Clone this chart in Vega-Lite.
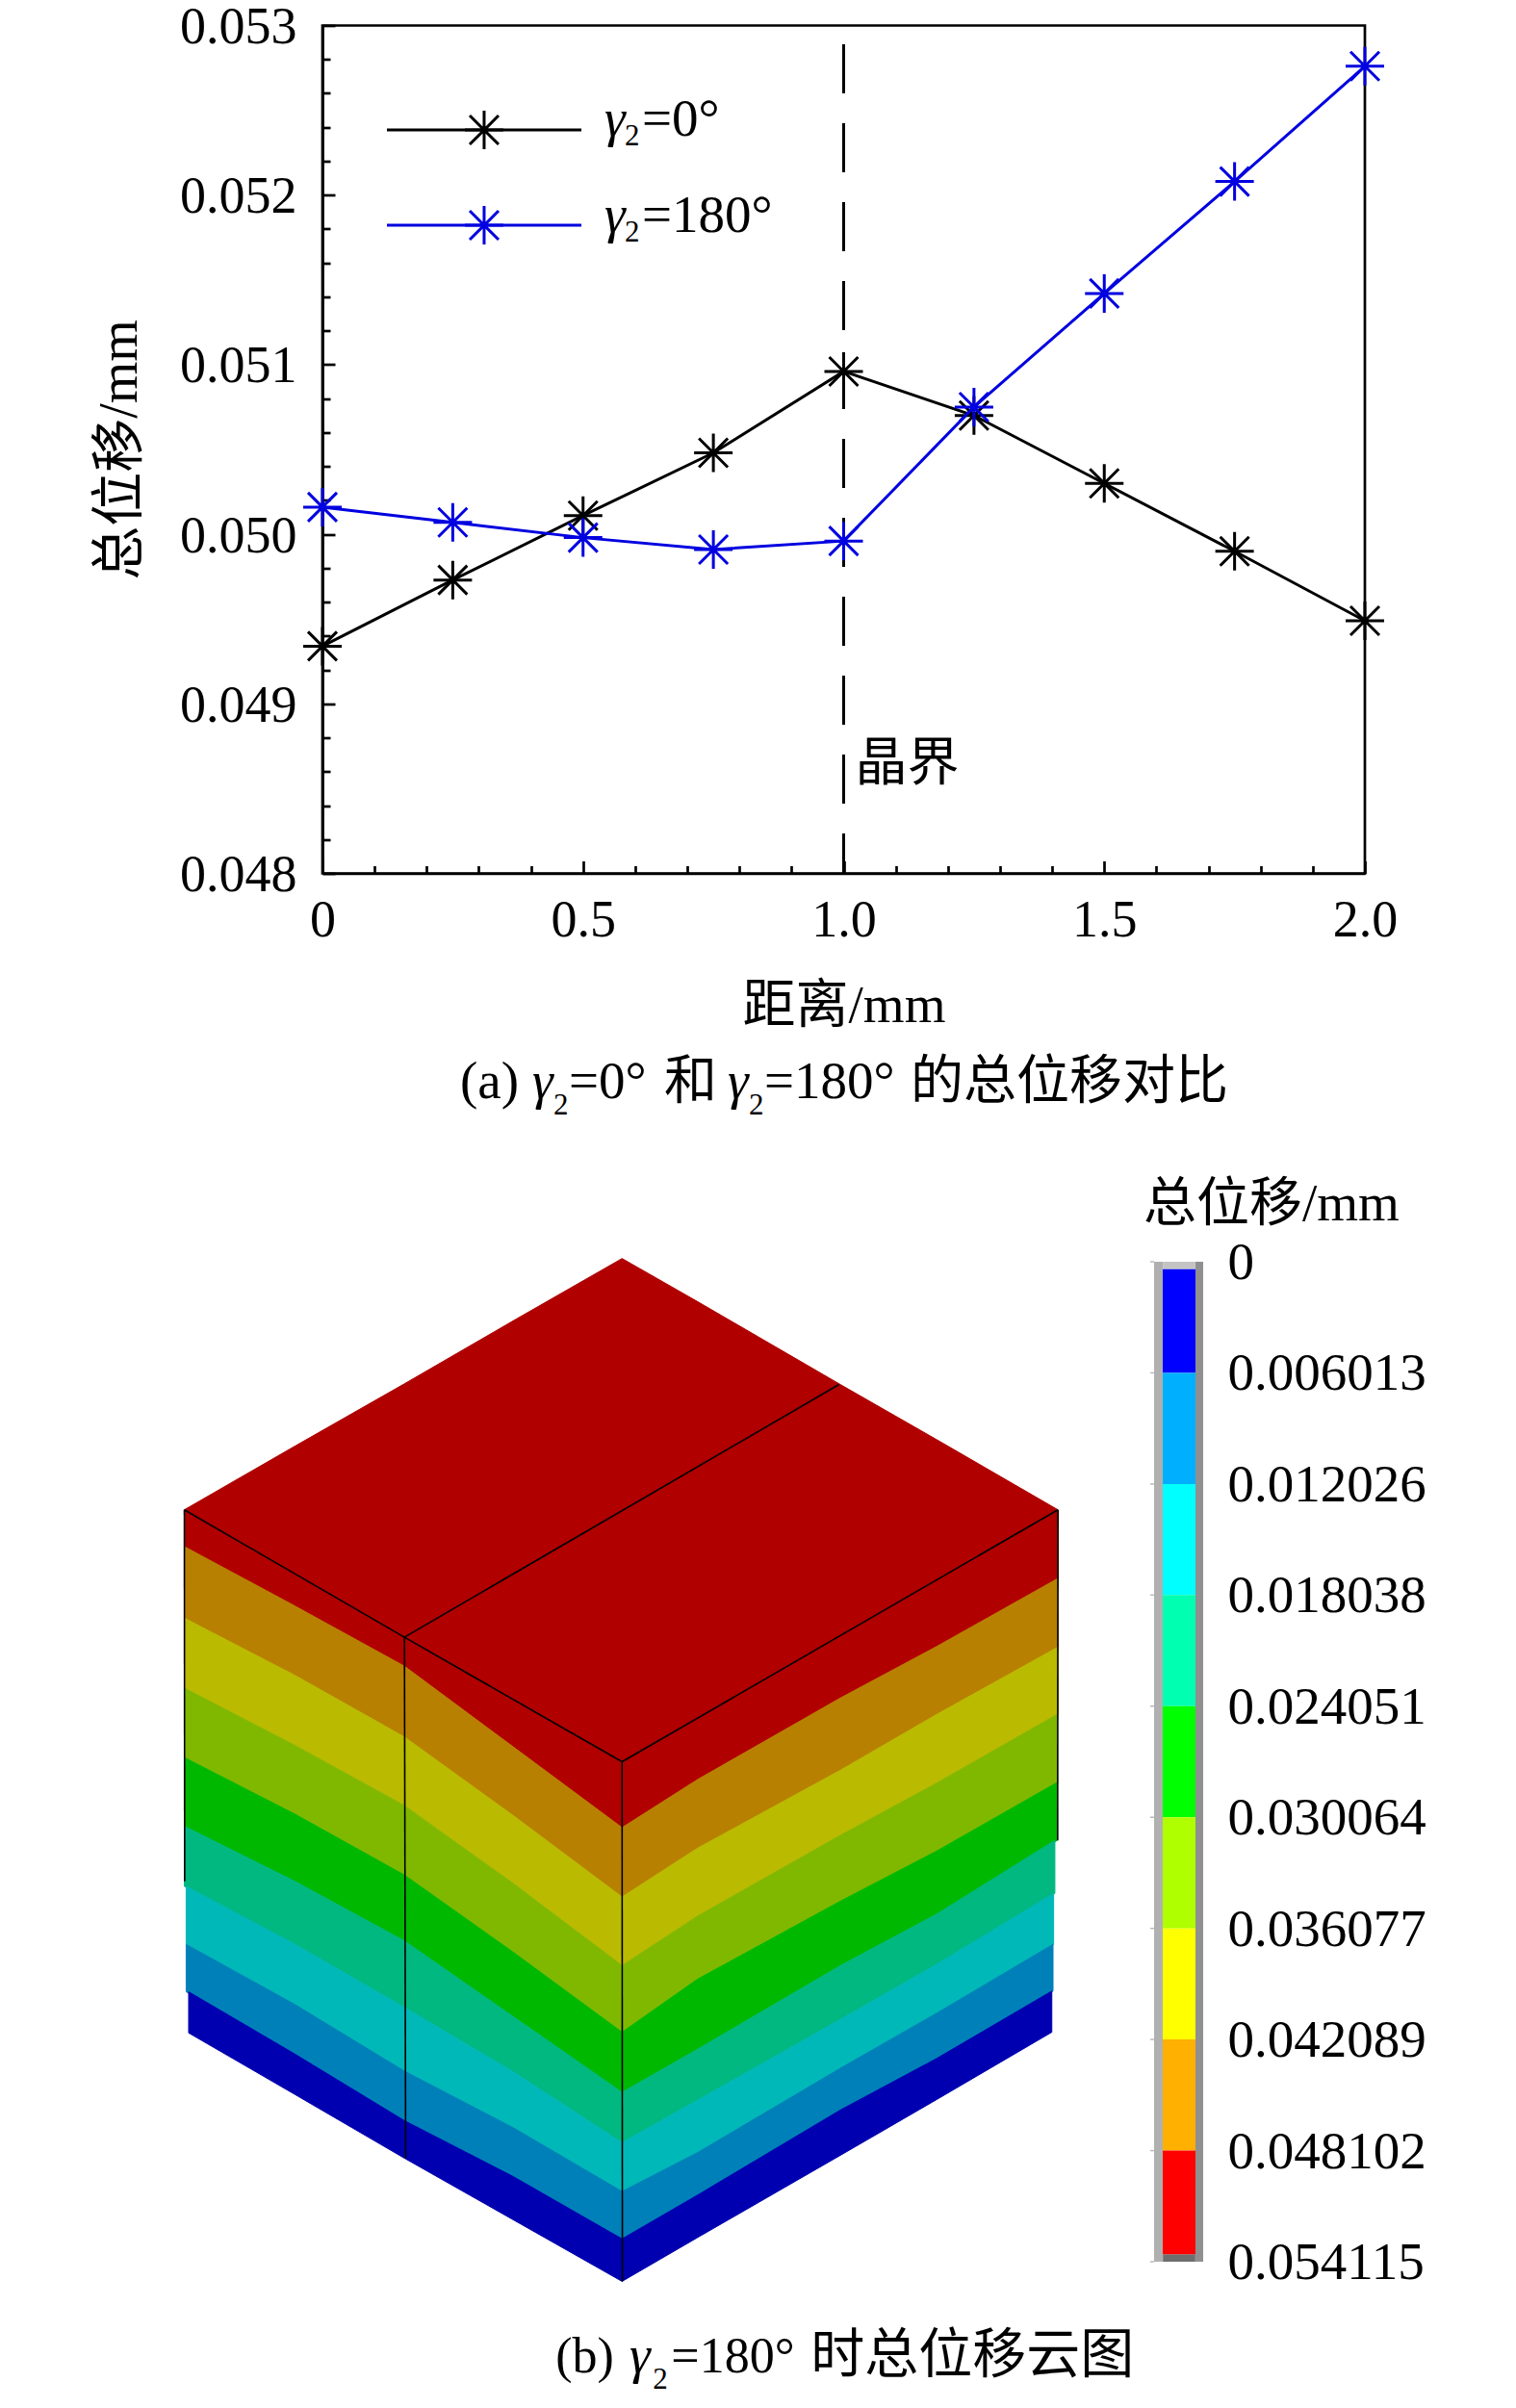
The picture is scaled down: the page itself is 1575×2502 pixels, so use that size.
{
  "$schema": "https://vega.github.io/schema/vega-lite/v6.json",
  "background": "white",
  "padding": {"left": 0, "top": -0.5, "right": 0, "bottom": 0},
  "bounds": "flush",
  "spacing": 1224.5,
  "resolve": {"scale": {"color": "independent", "stroke": "independent"}},
  "config": {
    "view": {"stroke": null},
    "font": "Liberation Serif, Noto Sans CJK SC"
  },
  "datasets": {
    "curves": [
      {"d": 0, "u": 0.04934, "series": "0"},
      {"d": 0.25, "u": 0.04973, "series": "0"},
      {"d": 0.5, "u": 0.05011, "series": "0"},
      {"d": 0.75, "u": 0.05048, "series": "0"},
      {"d": 1, "u": 0.05096, "series": "0"},
      {"d": 1.25, "u": 0.0507, "series": "0"},
      {"d": 1.5, "u": 0.0503, "series": "0"},
      {"d": 1.75, "u": 0.0499, "series": "0"},
      {"d": 2, "u": 0.04949, "series": "0"},
      {"d": 0, "u": 0.05016, "series": "180"},
      {"d": 0.25, "u": 0.05007, "series": "180"},
      {"d": 0.5, "u": 0.04998, "series": "180"},
      {"d": 0.75, "u": 0.04991, "series": "180"},
      {"d": 1, "u": 0.04996, "series": "180"},
      {"d": 1.25, "u": 0.05075, "series": "180"},
      {"d": 1.5, "u": 0.05142, "series": "180"},
      {"d": 1.75, "u": 0.05208, "series": "180"},
      {"d": 2, "u": 0.05276, "series": "180"}
    ],
    "legendLines": [
      {"d": 0.1237, "u": 0.052384, "series": "0"},
      {"d": 0.4968, "u": 0.052384, "series": "0"},
      {"d": 0.1237, "u": 0.051822, "series": "180"},
      {"d": 0.4968, "u": 0.051822, "series": "180"}
    ],
    "legendStars": [
      {"d": 0.3102, "u": 0.052384, "series": "0"},
      {"d": 0.3102, "u": 0.051822, "series": "180"}
    ],
    "bands": [
      {"b": "red", "x": 65, "t": 432, "e": 484},
      {"b": "red", "x": 245, "t": 342, "e": 568},
      {"b": "red", "x": 423, "t": 254, "e": 653},
      {"b": "red", "x": 600, "t": 165, "e": 767},
      {"b": "red", "x": 777, "t": 77, "e": 881},
      {"b": "red", "x": 900, "t": 138, "e": 813},
      {"b": "red", "x": 1132, "t": 255, "e": 698},
      {"b": "red", "x": 1289, "t": 333, "e": 625},
      {"b": "red", "x": 1486, "t": 432, "e": 529},
      {"b": "orange", "x": 65, "t": 484, "e": 585},
      {"b": "orange", "x": 245, "t": 568, "e": 666},
      {"b": "orange", "x": 423, "t": 653, "e": 753},
      {"b": "orange", "x": 600, "t": 767, "e": 864},
      {"b": "orange", "x": 777, "t": 881, "e": 979},
      {"b": "orange", "x": 900, "t": 813, "e": 910},
      {"b": "orange", "x": 1132, "t": 698, "e": 800},
      {"b": "orange", "x": 1289, "t": 625, "e": 721},
      {"b": "orange", "x": 1486, "t": 529, "e": 626},
      {"b": "yellow", "x": 65, "t": 585, "e": 684},
      {"b": "yellow", "x": 245, "t": 666, "e": 765},
      {"b": "yellow", "x": 423, "t": 753, "e": 850},
      {"b": "yellow", "x": 600, "t": 864, "e": 960},
      {"b": "yellow", "x": 777, "t": 979, "e": 1076},
      {"b": "yellow", "x": 900, "t": 910, "e": 1006},
      {"b": "yellow", "x": 1132, "t": 800, "e": 892},
      {"b": "yellow", "x": 1289, "t": 721, "e": 818},
      {"b": "yellow", "x": 1486, "t": 626, "e": 721},
      {"b": "lime", "x": 65, "t": 684, "e": 782},
      {"b": "lime", "x": 245, "t": 765, "e": 862},
      {"b": "lime", "x": 423, "t": 850, "e": 948},
      {"b": "lime", "x": 600, "t": 960, "e": 1057},
      {"b": "lime", "x": 777, "t": 1076, "e": 1170},
      {"b": "lime", "x": 900, "t": 1006, "e": 1095},
      {"b": "lime", "x": 1132, "t": 892, "e": 985},
      {"b": "lime", "x": 1289, "t": 818, "e": 914},
      {"b": "lime", "x": 1485, "t": 721, "e": 817},
      {"b": "green", "x": 65, "t": 782, "e": 879},
      {"b": "green", "x": 245, "t": 862, "e": 957},
      {"b": "green", "x": 423, "t": 948, "e": 1041},
      {"b": "green", "x": 600, "t": 1057, "e": 1148},
      {"b": "green", "x": 777, "t": 1170, "e": 1255},
      {"b": "green", "x": 900, "t": 1095, "e": 1194},
      {"b": "green", "x": 1132, "t": 985, "e": 1076},
      {"b": "green", "x": 1289, "t": 914, "e": 1003},
      {"b": "green", "x": 1485, "t": 817, "e": 899},
      {"b": "teal", "x": 65, "t": 879, "e": 964},
      {"b": "teal", "x": 245, "t": 957, "e": 1046},
      {"b": "teal", "x": 423, "t": 1041, "e": 1135},
      {"b": "teal", "x": 600, "t": 1148, "e": 1226},
      {"b": "teal", "x": 777, "t": 1255, "e": 1326},
      {"b": "teal", "x": 900, "t": 1194, "e": 1266},
      {"b": "teal", "x": 1132, "t": 1076, "e": 1152},
      {"b": "teal", "x": 1289, "t": 1003, "e": 1074},
      {"b": "teal", "x": 1481, "t": 899, "e": 974},
      {"b": "cyan", "x": 68, "t": 964, "e": 1046},
      {"b": "cyan", "x": 245, "t": 1046, "e": 1131},
      {"b": "cyan", "x": 423, "t": 1135, "e": 1225},
      {"b": "cyan", "x": 600, "t": 1226, "e": 1305},
      {"b": "cyan", "x": 777, "t": 1326, "e": 1395},
      {"b": "cyan", "x": 900, "t": 1266, "e": 1340},
      {"b": "cyan", "x": 1132, "t": 1152, "e": 1221},
      {"b": "cyan", "x": 1289, "t": 1074, "e": 1143},
      {"b": "cyan", "x": 1479, "t": 974, "e": 1046},
      {"b": "blue", "x": 68, "t": 1046, "e": 1113},
      {"b": "blue", "x": 245, "t": 1131, "e": 1201},
      {"b": "blue", "x": 423, "t": 1225, "e": 1295},
      {"b": "blue", "x": 600, "t": 1305, "e": 1374},
      {"b": "blue", "x": 777, "t": 1395, "e": 1462},
      {"b": "blue", "x": 900, "t": 1340, "e": 1400},
      {"b": "blue", "x": 1132, "t": 1221, "e": 1280},
      {"b": "blue", "x": 1289, "t": 1143, "e": 1207},
      {"b": "blue", "x": 1478, "t": 1046, "e": 1112},
      {"b": "navy", "x": 72, "t": 1113, "e": 1171},
      {"b": "navy", "x": 245, "t": 1201, "e": 1258},
      {"b": "navy", "x": 423, "t": 1295, "e": 1348},
      {"b": "navy", "x": 600, "t": 1374, "e": 1435},
      {"b": "navy", "x": 777, "t": 1462, "e": 1522},
      {"b": "navy", "x": 900, "t": 1400, "e": 1460},
      {"b": "navy", "x": 1132, "t": 1280, "e": 1344},
      {"b": "navy", "x": 1289, "t": 1207, "e": 1265},
      {"b": "navy", "x": 1476, "t": 1112, "e": 1170}
    ],
    "edges": [
      {"g": "rim", "x": 65, "y": 432},
      {"g": "rim", "x": 423, "y": 612},
      {"g": "rim", "x": 777, "y": 788},
      {"g": "rim", "x": 1486, "y": 432},
      {"g": "split", "x": 423, "y": 612},
      {"g": "split", "x": 1130, "y": 255},
      {"g": "boundary", "x": 423, "y": 612},
      {"g": "boundary", "x": 425, "y": 1348},
      {"g": "front", "x": 777, "y": 788},
      {"g": "front", "x": 777.5, "y": 1522},
      {"g": "leftEdge", "x": 65, "y": 432},
      {"g": "leftEdge", "x": 65.5, "y": 957},
      {"g": "rightEdge", "x": 1486, "y": 432},
      {"g": "rightEdge", "x": 1485.5, "y": 899}
    ],
    "bins": [
      {"c": "frameL", "a": 0, "b": 0.18, "lo": 0, "hi": 0.054115},
      {"c": "frameR", "a": 0.84, "b": 1, "lo": 0, "hi": 0.054115},
      {"c": "capT", "a": 0.18, "b": 0.84, "lo": 0, "hi": 0.0004},
      {"c": "capB", "a": 0.18, "b": 0.84, "lo": 0.05371, "hi": 0.054115},
      {"c": "c1", "a": 0.176, "b": 0.843, "lo": 0.0004, "hi": 0.006013},
      {"c": "c2", "a": 0.176, "b": 0.843, "lo": 0.006013, "hi": 0.012026},
      {"c": "c3", "a": 0.176, "b": 0.843, "lo": 0.012026, "hi": 0.018038},
      {"c": "c4", "a": 0.176, "b": 0.843, "lo": 0.018038, "hi": 0.024051},
      {"c": "c5", "a": 0.176, "b": 0.843, "lo": 0.024051, "hi": 0.030064},
      {"c": "c6", "a": 0.176, "b": 0.843, "lo": 0.030064, "hi": 0.036077},
      {"c": "c7", "a": 0.176, "b": 0.843, "lo": 0.036077, "hi": 0.042089},
      {"c": "c8", "a": 0.176, "b": 0.843, "lo": 0.042089, "hi": 0.048102},
      {"c": "c9", "a": 0.176, "b": 0.843, "lo": 0.048102, "hi": 0.05371}
    ]
  },
  "vconcat": [
    {
      "bounds": "flush",
      "spacing": 0,
      "hconcat": [
        {
          "width": 335,
          "height": 20,
          "data": {"values": [{"t": ""}]},
          "mark": "text",
          "encoding": {"text": {"field": "t"}}
        },
        {
          "width": 1083,
          "height": 881,
          "view": {"stroke": "black", "strokeWidth": 2.7},
          "encoding": {
            "x": {
              "field": "d",
              "type": "quantitative",
              "scale": {"domain": [0, 2], "nice": false},
              "axis": {
                "title": "距离/mm",
                "titleFontSize": 55,
                "titleFontWeight": "normal",
                "titleColor": "black",
                "titlePadding": 30,
                "values": [0, 0.1, 0.2, 0.3, 0.4, 0.5, 0.6, 0.7, 0.8, 0.9, 1, 1.1, 1.2, 1.3, 1.4, 1.5, 1.6, 1.7, 1.8, 1.9, 2],
                "labelExpr": "abs(datum.value*2-round(datum.value*2))>1e-6 ? '' : (datum.value==0 ? '0' : format(datum.value,'.1f'))",
                "labelFontSize": 54,
                "labelColor": "black",
                "labelPadding": 35,
                "labelFlush": false,
                "labelOverlap": false,
                "grid": false,
                "domainColor": "black",
                "domainWidth": 2.7,
                "tickColor": "black",
                "tickWidth": 2.7,
                "tickSize": {"condition": {"test": "abs(datum.value*2-round(datum.value*2))<1e-6", "value": -13}, "value": -8}
              }
            },
            "y": {
              "field": "u",
              "type": "quantitative",
              "scale": {"domain": [0.048, 0.053], "nice": false, "zero": false},
              "axis": {
                "title": "总位移/mm",
                "titleFontSize": 56,
                "titleFontWeight": "normal",
                "titleColor": "black",
                "titlePadding": 33,
                "values": [0.048, 0.0482, 0.0484, 0.0486, 0.0488, 0.049, 0.0492, 0.0494, 0.0496, 0.0498, 0.05, 0.0502, 0.0504, 0.0506, 0.0508, 0.051, 0.0512, 0.0514, 0.0516, 0.0518, 0.052, 0.0522, 0.0524, 0.0526, 0.0528, 0.053],
                "labelExpr": "abs(datum.value*1000-round(datum.value*1000))>1e-6 ? '' : format(datum.value,'.3f')",
                "labelFontSize": 54,
                "labelColor": "black",
                "labelPadding": 40,
                "labelOffset": 2,
                "labelFlush": false,
                "labelOverlap": false,
                "grid": false,
                "domainColor": "black",
                "domainWidth": 2.7,
                "tickColor": "black",
                "tickWidth": 2.7,
                "tickSize": {"condition": {"test": "abs(datum.value*1000-round(datum.value*1000))<1e-6", "value": -13}, "value": -8}
              }
            },
            "color": {
              "field": "series",
              "type": "nominal",
              "scale": {"domain": ["0", "180"], "range": ["#000000", "#0000E0"]},
              "legend": null
            }
          },
          "layer": [
            {
              "data": {"values": [{"d": 1, "u": 0.05289, "u2": 0.048}]},
              "mark": {"type": "rule", "color": "black", "strokeWidth": 3, "strokeDash": [51, 31]},
              "encoding": {
                "y2": {"field": "u2"},
                "color": {"value": "black"}
              }
            },
            {
              "data": {"name": "curves"},
              "mark": {"type": "line", "strokeWidth": 3, "clip": false}
            },
            {
              "data": {"name": "curves"},
              "mark": {
                "type": "point",
                "shape": "M0,-1L0,1M-1,0L1,0M-0.75,-0.75L0.75,0.75M-0.75,0.75L0.75,-0.75",
                "filled": false,
                "size": 1600,
                "strokeWidth": 3,
                "opacity": 1
              }
            },
            {
              "data": {"name": "legendLines"},
              "mark": {"type": "line", "strokeWidth": 3}
            },
            {
              "data": {"name": "legendStars"},
              "mark": {
                "type": "point",
                "shape": "M0,-1L0,1M-1,0L1,0M-0.75,-0.75L0.75,0.75M-0.75,0.75L0.75,-0.75",
                "filled": false,
                "size": 1600,
                "strokeWidth": 3,
                "opacity": 1
              }
            },
            {
              "data": {"values": [
                {"d": 0.6131, "u": 0.052353, "t": "=0°"},
                {"d": 0.6131, "u": 0.051785, "t": "=180°"},
                {"d": 0.2641, "u": 0.046675, "t": "(a)"},
                {"d": 0.4727, "u": 0.046675, "t": "=0°"},
                {"d": 0.6556, "u": 0.046675, "t": "和"},
                {"d": 0.8476, "u": 0.046675, "t": "=180°"},
                {"d": 1.1283, "u": 0.046675, "t": "的总位移对比"}
              ]},
              "mark": {"type": "text", "fontSize": 55, "align": "left", "baseline": "alphabetic", "color": "black"},
              "encoding": {"text": {"field": "t"}, "color": {"value": "black"}}
            },
            {
              "data": {"values": [
                {"d": 0.5411, "u": 0.052353, "t": "γ"},
                {"d": 0.5411, "u": 0.051785, "t": "γ"},
                {"d": 0.4026, "u": 0.046675, "t": "γ"},
                {"d": 0.7775, "u": 0.046675, "t": "γ"}
              ]},
              "mark": {"type": "text", "fontSize": 55, "fontStyle": "italic", "align": "left", "baseline": "alphabetic", "color": "black"},
              "encoding": {"text": {"field": "t"}, "color": {"value": "black"}}
            },
            {
              "data": {"values": [
                {"d": 0.5799, "u": 0.052296, "t": "2"},
                {"d": 0.5799, "u": 0.051728, "t": "2"},
                {"d": 0.4432, "u": 0.046578, "t": "2"},
                {"d": 0.8181, "u": 0.046578, "t": "2"}
              ]},
              "mark": {"type": "text", "fontSize": 31, "align": "left", "baseline": "alphabetic", "color": "black"},
              "encoding": {"text": {"field": "t"}, "color": {"value": "black"}}
            },
            {
              "data": {"values": [{"d": 1.022, "u": 0.04864, "t": "晶界"}]},
              "mark": {"type": "text", "fontSize": 54, "align": "left", "baseline": "middle", "color": "black"},
              "encoding": {"text": {"field": "t"}, "color": {"value": "black"}}
            }
          ]
        }
      ]
    },
    {
      "bounds": "flush",
      "spacing": 0,
      "resolve": {"scale": {"color": "independent", "stroke": "independent"}},
      "hconcat": [
        {
          "width": 1150,
          "height": 1140,
          "encoding": {
            "x": {
              "field": "x",
              "type": "quantitative",
              "scale": {"domain": [0, 1550], "range": [150, 1140], "nice": false},
              "axis": null
            },
            "y": {
              "field": "y",
              "type": "quantitative",
              "scale": {"domain": [0, 1550], "range": [0, 1140], "nice": false},
              "axis": null
            }
          },
          "layer": [
            {
              "data": {"name": "bands"},
              "mark": {"type": "area", "strokeWidth": 1},
              "encoding": {
                "y": {"field": "t", "type": "quantitative"},
                "y2": {"field": "e"},
                "color": {
                  "field": "b",
                  "type": "nominal",
                  "scale": {
                    "domain": ["red", "orange", "yellow", "lime", "green", "teal", "cyan", "blue", "navy"],
                    "range": ["#B00000", "#B88000", "#BABA00", "#80B800", "#00B800", "#00B880", "#00B8B8", "#0080B8", "#0000B0"]
                  },
                  "legend": null
                },
                "stroke": {
                  "field": "b",
                  "type": "nominal",
                  "scale": {
                    "domain": ["red", "orange", "yellow", "lime", "green", "teal", "cyan", "blue", "navy"],
                    "range": ["#B00000", "#B88000", "#BABA00", "#80B800", "#00B800", "#00B880", "#00B8B8", "#0080B8", "#0000B0"]
                  },
                  "legend": null
                }
              }
            },
            {
              "data": {"name": "edges"},
              "mark": {"type": "line", "color": "black", "strokeWidth": 1.6},
              "encoding": {"detail": {"field": "g"}}
            },
            {
              "data": {"values": [
                {"x": 669, "y": 1651, "t": "(b)"},
                {"x": 857, "y": 1651, "t": "=180°"}
              ]},
              "mark": {"type": "text", "fontSize": 52, "align": "left", "baseline": "alphabetic", "color": "black"},
              "encoding": {"text": {"field": "t"}}
            },
            {
              "data": {"values": [{"x": 1084, "y": 1651, "t": "时总位移云图"}]},
              "mark": {"type": "text", "fontSize": 56, "align": "left", "baseline": "alphabetic", "color": "black"},
              "encoding": {"text": {"field": "t"}}
            },
            {
              "data": {"values": [{"x": 789, "y": 1651, "t": "γ"}]},
              "mark": {"type": "text", "fontSize": 55, "fontStyle": "italic", "align": "left", "baseline": "alphabetic", "color": "black"},
              "encoding": {"text": {"field": "t"}}
            },
            {
              "data": {"values": [{"x": 827, "y": 1674, "t": "2"}]},
              "mark": {"type": "text", "fontSize": 31, "align": "left", "baseline": "alphabetic", "color": "black"},
              "encoding": {"text": {"field": "t"}}
            }
          ]
        },
        {
          "width": 100,
          "height": 1140,
          "encoding": {
            "x": {
              "field": "a",
              "type": "quantitative",
              "scale": {"domain": [0, 1], "range": [49, 100], "nice": false},
              "axis": null
            },
            "y": {
              "field": "lo",
              "type": "quantitative",
              "scale": {"domain": [0, 0.054115], "range": [60, 1099], "nice": false, "zero": false},
              "axis": {
                "orient": "right",
                "title": null,
                "values": [0, 0.006013, 0.012026, 0.018038, 0.024051, 0.030064, 0.036077, 0.042089, 0.048102, 0.054115],
                "labelExpr": "datum.value==0 ? '0' : format(datum.value,'.6f')",
                "labelFontSize": 55,
                "labelColor": "black",
                "labelPadding": 25,
                "labelOffset": 0.5,
                "labelLimit": 400,
                "labelFlush": false,
                "labelOverlap": false,
                "ticks": false,
                "domain": false,
                "grid": false
              }
            }
          },
          "layer": [
            {
              "data": {"values": [
                {"a": -0.08, "b": 0, "lo": 0},
                {"a": -0.08, "b": 0, "lo": 0.006013},
                {"a": -0.08, "b": 0, "lo": 0.012026},
                {"a": -0.08, "b": 0, "lo": 0.018038},
                {"a": -0.08, "b": 0, "lo": 0.024051},
                {"a": -0.08, "b": 0, "lo": 0.030064},
                {"a": -0.08, "b": 0, "lo": 0.036077},
                {"a": -0.08, "b": 0, "lo": 0.042089},
                {"a": -0.08, "b": 0, "lo": 0.048102},
                {"a": -0.08, "b": 0, "lo": 0.054115}
              ]},
              "mark": {"type": "rule", "color": "#BBBBBB", "strokeWidth": 1.5},
              "encoding": {"x2": {"field": "b"}}
            },
            {
              "data": {"name": "bins"},
              "mark": {"type": "rect"},
              "encoding": {
                "x2": {"field": "b"},
                "y2": {"field": "hi"},
                "color": {
                  "field": "c",
                  "type": "nominal",
                  "scale": {
                    "domain": ["frameL", "frameR", "capT", "capB", "c1", "c2", "c3", "c4", "c5", "c6", "c7", "c8", "c9"],
                    "range": ["#B0B0B0", "#909090", "#C4C4C4", "#6E6E6E", "#0000FF", "#00B0FF", "#00FFFF", "#00FFB0", "#00FF00", "#B0FF00", "#FFFF00", "#FFB000", "#FF0000"]
                  },
                  "legend": null
                }
              }
            },
            {
              "data": {"values": [{"a": -0.216, "lo": -0.00315, "t": "总位移/mm"}]},
              "mark": {"type": "text", "fontSize": 55, "align": "left", "baseline": "middle", "color": "black"},
              "encoding": {"text": {"field": "t"}}
            }
          ]
        }
      ]
    }
  ]
}
